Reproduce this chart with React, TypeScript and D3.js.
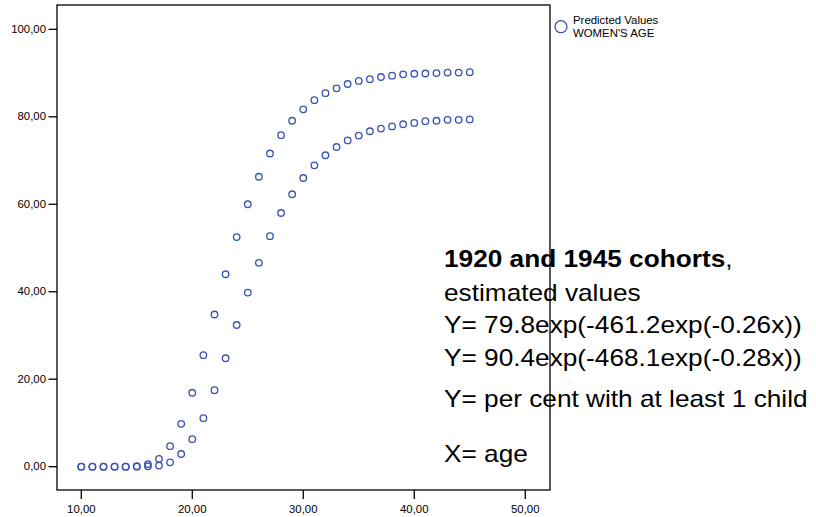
import React from "react";
import * as d3 from "d3";

const ages = [10, 11, 12, 13, 14, 15, 16, 17, 18, 19, 20, 21, 22, 23, 24, 25, 26, 27, 28, 29, 30, 31, 32, 33, 34, 35, 36, 37, 38, 39, 40, 41, 42, 43, 44, 45];
const cohort1920 = [0, 0, 0, 0, 0, 0, 0.1, 0.25, 1.0, 2.9, 6.3, 11.1, 17.5, 24.8, 32.4, 39.8, 46.6, 52.7, 58.0, 62.3, 66.0, 68.9, 71.2, 73.1, 74.6, 75.7, 76.7, 77.3, 77.8, 78.3, 78.6, 79.0, 79.1, 79.3, 79.3, 79.4];
const cohort1945 = [0, 0, 0, 0, 0, 0.1, 0.6, 1.8, 4.7, 9.8, 16.9, 25.5, 34.8, 44.0, 52.5, 60.0, 66.3, 71.6, 75.8, 79.1, 81.7, 83.8, 85.4, 86.5, 87.5, 88.2, 88.6, 89.1, 89.4, 89.7, 89.85, 89.9, 90.0, 90.1, 90.1, 90.2];
const xTicks = [10, 20, 30, 40, 50];
const yTicks = [0, 20, 40, 60, 80, 100];
const legendLines = ["Predicted Values", "WOMEN'S AGE"];
const annotation = [
  "estimated values",
  "Y= 79.8exp(-461.2exp(-0.26x))",
  "Y= 90.4exp(-468.1exp(-0.28x))",
];

const W = 816;
const H = 517;
const left = 57, right = 550, top = 5, bottom = 490;
const SX = 1.14;
const FONT = "'Liberation Sans', Arial, Helvetica, sans-serif";
const BLUE = "#3a55b0";

const fmt = (v: number) => v.toFixed(2).replace(".", ",");

export default function App() {
  const x = d3.scaleLinear().domain([7.811, 52.23]).range([left, right]);
  const y = d3.scaleLinear().domain([-5.33, 105.56]).range([bottom, top]);

  const pts = [
    ...ages.map((a, i) => ({ a, v: cohort1920[i] })),
    ...ages.map((a, i) => ({ a, v: cohort1945[i] })),
  ];

  const T = (tx: number, ty: number) => `translate(${tx},${ty}) scale(${SX},1)`;

  return (
    <svg width={W} height={H} style={{ position: "absolute", left: 0, top: 0, background: "#fff" }} fontFamily={FONT}>
      <rect x={0} y={0} width={W} height={H} fill="#fff" />
      {pts.map((p, i) => (
        <circle key={i} cx={x(p.a)} cy={y(p.v)} r={3.25} fill="none" stroke={BLUE} strokeWidth={1.35} />
      ))}
      <g transform={T(444, 267)}>
        <text fontSize={23} fill="#000">
          <tspan fontWeight="bold">1920 and 1945 cohorts</tspan>
          <tspan>,</tspan>
        </text>
      </g>
      {annotation.map((s, i) => (
        <g key={s} transform={T(444, 300.5 + i * 32.5)}>
          <text fontSize={23} fill="#000">{s}</text>
        </g>
      ))}
      <g transform={T(444, 406.5)}>
        <text fontSize={23} fill="#000">Y= per cent with at least 1 child</text>
      </g>
      <g transform={T(444, 461.5)}>
        <text fontSize={23} fill="#000">X= age</text>
      </g>
      <rect x={left} y={top} width={right - left} height={bottom - top} fill="none" stroke="#000" strokeWidth={1.3} />
      {yTicks.map((t) => (
        <g key={t}>
          <line x1={left - 8.5} x2={left} y1={y(t)} y2={y(t)} stroke="#000" strokeWidth={1.3} />
          <g transform={T(left - 11, y(t) + 3.6)}>
            <text fontSize={10} textAnchor="end" fill="#000">{fmt(t)}</text>
          </g>
        </g>
      ))}
      {xTicks.map((t) => (
        <g key={t}>
          <line x1={x(t)} x2={x(t)} y1={bottom} y2={bottom + 9} stroke="#000" strokeWidth={1.3} />
          <g transform={T(x(t), 512.5)}>
            <text fontSize={10} textAnchor="middle" fill="#000">{fmt(t)}</text>
          </g>
        </g>
      ))}
      <circle cx={561} cy={26.7} r={6} fill="none" stroke={BLUE} strokeWidth={1.3} />
      {legendLines.map((s, i) => (
        <g key={s} transform={T(573, 23.5 + i * 13)}>
          <text fontSize={10} fill="#000">{s}</text>
        </g>
      ))}
    </svg>
  );
}
